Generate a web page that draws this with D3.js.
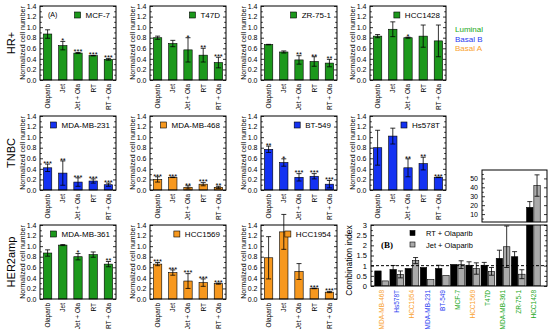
<!DOCTYPE html>
<html><head><meta charset="utf-8">
<script src="https://cdn.jsdelivr.net/npm/d3@7"></script>
<style>
body{margin:0;background:#fff}
svg{display:block;font-family:"Liberation Sans",Arial,Helvetica,sans-serif}
</style>
</head><body>
<svg id="c" width="550" height="331"></svg>
<script>
// ---------------- DATA ----------------
const treatments = ["Olaparib", "Jet", "Jet + Ola", "RT", "RT + Ola"];
const rowLabels = ["HR+", "TNBC", "HER2amp"];
const subtypes = ["Luminal", "Basal B", "Basal A"];

const panelNames   = ["MCF-7", "T47D", "ZR-75-1", "HCC1428", "MDA-MB-231", "MDA-MB-468", "BT-549", "Hs578T", "MDA-MB-361", "HCC1569", "HCC1954"];
const panelSubtype = ["Luminal", "Luminal", "Luminal", "Luminal", "Basal B", "Basal A", "Basal B", "Basal B", "Luminal", "Basal A", "Basal A"];

const mcf7Mean = [0.87, 0.65, 0.51, 0.46, 0.39];
const mcf7Err  = [0.08, 0.08, 0.01, 0.005, 0.015];
const mcf7Sig  = ["", "*", "***", "***", "***"];

const t47dMean = [0.80, 0.69, 0.57, 0.47, 0.33];
const t47dErr  = [0.03, 0.06, 0.23, 0.13, 0.10];
const t47dSig  = ["", "", "*", "**", "***"];

const zr751Mean = [0.67, 0.53, 0.38, 0.35, 0.32];
const zr751Err  = [0.005, 0.02, 0.08, 0.09, 0.07];
const zr751Sig  = ["", "", "**", "**", "**"];

const hcc1428Mean = [0.83, 0.96, 0.80, 0.83, 0.74];
const hcc1428Err  = [0.03, 0.14, 0.01, 0.21, 0.30];
const hcc1428Sig  = ["", "", "*", "", ""];

const mdamb231Mean = [0.42, 0.32, 0.15, 0.17, 0.10];
const mdamb231Err  = [0.07, 0.23, 0.08, 0.04, 0.03];
const mdamb231Sig  = ["***", "**", "***", "***", "***"];

const mdamb468Mean = [0.20, 0.24, 0.05, 0.11, 0.05];
const mdamb468Err  = [0.05, 0.005, 0.03, 0.03, 0.02];
const mdamb468Sig  = ["***", "***", "**", "***", "**"];

const bt549Mean = [0.77, 0.52, 0.24, 0.26, 0.11];
const bt549Err  = [0.06, 0.07, 0.07, 0.05, 0.07];
const bt549Sig  = ["**", "*", "***", "***", "***"];

const hs578tMean = [0.80, 1.02, 0.42, 0.50, 0.24];
const hs578tErr  = [0.33, 0.15, 0.17, 0.12, 0.005];
const hs578tSig  = ["", "", "**", "**", "***"];

const mdamb361Mean = [0.87, 1.02, 0.80, 0.84, 0.66];
const mdamb361Err  = [0.06, 0.01, 0.06, 0.05, 0.05];
const mdamb361Sig  = ["", "", "*", "", "**"];

const hcc1569Mean = [0.66, 0.50, 0.34, 0.31, 0.29];
const hcc1569Err  = [0.03, 0.05, 0.14, 0.07, 0.01];
const hcc1569Sig  = ["***", "***", "***", "***", "***"];

const hcc1954Mean = [0.78, 1.27, 0.52, 0.20, 0.13];
const hcc1954Err  = [0.40, 0.33, 0.15, 0.005, 0.01];
const hcc1954Sig  = ["", "", "", "***", "***"];

const yTicks = [0, 0.2, 0.4, 0.6, 0.8, 1.0, 1.2, 1.4];
const yMinor = [0.1, 0.3, 0.5, 0.7, 0.9, 1.1, 1.3];

// Panel B: combination index
const ciLines   = ["MDA-MB-468", "Hs578T", "HCC1954", "MDA-MB-231", "BT-549", "MCF-7", "HCC1569", "T47D", "MDA-MB-361", "ZR-75-1", "HCC1428"];
const ciSubtype = ["Basal A", "Basal B", "Basal A", "Basal B", "Basal B", "Luminal", "Basal A", "Luminal", "Luminal", "Luminal", "Luminal"];
const ciSeries  = ["RT + Olaparib", "Jet + Olaparib"];
const rtOla     = [0.74, 0.81, 0.86, 0.91, 0.86, 1.06, 1.02, 1.02, 1.36, 1.44, 17.5];
const rtOlaErr  = [0, 0.2, 0, 0, 0.16, 0, 0.17, 0.14, 0.4, 0.25, 6.5];
const jetOla    = [0.25, 0.57, 1.25, 0.32, 0.52, 1.05, 0.86, 0.72, 1.93, 0.58, 42];
const jetOlaErr = [0, 0.17, 0.15, 0, 0, 0.19, 0.28, 0.19, 1.02, 0.22, 12];
const ciTicks   = [0, 0.5, 1, 1.5, 2, 2.5, 3];
const insetTicks = [10, 20, 30, 40, 50];

// ---------------- STYLE / LAYOUT ----------------
const fillColor = {"Luminal": "#1c981c", "Basal B": "#1432f2", "Basal A": "#f7981e"};
const textColor = {"Luminal": "#21a821", "Basal B": "#2a3cf0", "Basal A": "#f9a12e"};
const colX = [40, 150, 261, 370];
const panelW = 76;
const rowTop = [6, 116, 225];
const rowBot = [80, 190, 299];

const svg = d3.select("#c");
const panelData = [
  [mcf7Mean, mcf7Err, mcf7Sig], [t47dMean, t47dErr, t47dSig], [zr751Mean, zr751Err, zr751Sig], [hcc1428Mean, hcc1428Err, hcc1428Sig],
  [mdamb231Mean, mdamb231Err, mdamb231Sig], [mdamb468Mean, mdamb468Err, mdamb468Sig], [bt549Mean, bt549Err, bt549Sig], [hs578tMean, hs578tErr, hs578tSig],
  [mdamb361Mean, mdamb361Err, mdamb361Sig], [hcc1569Mean, hcc1569Err, hcc1569Sig], [hcc1954Mean, hcc1954Err, hcc1954Sig]
];

function styleAxis(g, fs) {
  g.select(".domain").remove();
  g.attr("font-size", fs).attr("font-family", null);
  g.selectAll("line").attr("stroke", "#000").attr("stroke-width", 0.8);
  g.selectAll("text").attr("fill", "#000");
}

function errorBars(g, rows, capW) {
  const eg = g.append("g").attr("stroke", "#000").attr("stroke-width", 0.8);
  rows.forEach(r => {
    if (r.e <= 0) return;
    eg.append("line").attr("x1", r.x).attr("x2", r.x).attr("y1", r.yLo).attr("y2", r.yHi);
    eg.append("line").attr("x1", r.x - capW / 2).attr("x2", r.x + capW / 2).attr("y1", r.yLo).attr("y2", r.yLo);
    eg.append("line").attr("x1", r.x - capW / 2).attr("x2", r.x + capW / 2).attr("y1", r.yHi).attr("y2", r.yHi);
  });
}

panelNames.forEach((name, pi) => {
  const row = Math.floor(pi / 4), col = pi % 4;
  const [mean, err, sig] = panelData[pi];
  const left = colX[col], right = left + panelW, top = rowTop[row], bot = rowBot[row];
  const y = d3.scaleLinear().domain([0, 1.4]).range([bot, top]);
  const x = d3.scaleBand().domain(treatments).range([left, right]).paddingInner(0.45).paddingOuter(0.225);
  const g = svg.append("g");
  const color = fillColor[panelSubtype[pi]];

  g.selectAll("rect.bar").data(mean).join("rect").attr("class", "bar")
    .attr("x", (d, i) => x(treatments[i])).attr("y", d => y(d))
    .attr("width", x.bandwidth()).attr("height", d => bot - y(d))
    .attr("fill", color).attr("stroke", "#000").attr("stroke-width", 0.6);

  errorBars(g, mean.map((m, i) => ({x: x(treatments[i]) + x.bandwidth() / 2, e: err[i], yLo: y(m - err[i]), yHi: y(m + err[i])})), 5);

  g.selectAll("text.sig").data(sig).join("text").attr("class", "sig")
    .attr("x", (d, i) => x(treatments[i]) + x.bandwidth() / 2)
    .attr("y", (d, i) => y(mean[i] + err[i]) + 1.8)
    .attr("text-anchor", "middle").attr("font-size", 7.5).text(d => d);

  // frame
  g.append("rect").attr("x", left).attr("y", top).attr("width", panelW).attr("height", bot - top)
    .attr("fill", "none").attr("stroke", "#000").attr("stroke-width", 1);

  // axes (inward ticks)
  g.append("g").attr("transform", `translate(${left},0)`)
    .call(d3.axisLeft(y).tickValues(yTicks).tickSize(-3).tickPadding(3.5).tickFormat(d3.format(".1f")))
    .call(a => styleAxis(a, 7));
  g.append("g").attr("transform", `translate(${left},0)`)
    .call(d3.axisLeft(y).tickValues(yMinor).tickSize(-1.8).tickFormat(""))
    .call(a => styleAxis(a, 7));
  g.append("g").attr("transform", `translate(${right},0)`)
    .call(d3.axisRight(y).tickValues(yTicks).tickSize(-3).tickFormat(""))
    .call(a => styleAxis(a, 7));
  g.append("g").attr("transform", `translate(${right},0)`)
    .call(d3.axisRight(y).tickValues(yMinor).tickSize(-1.8).tickFormat(""))
    .call(a => styleAxis(a, 7));

  // y label
  g.append("text").attr("transform", `translate(${left - 15},${(top + bot) / 2}) rotate(-90)`)
    .attr("text-anchor", "middle").attr("font-size", 7).text("Normalized cell number");

  // category labels
  g.selectAll("text.cat").data(treatments).join("text").attr("class", "cat")
    .attr("transform", d => `translate(${x(d) + x.bandwidth() / 2 + 2.4},${bot + 4}) rotate(-90)`)
    .attr("text-anchor", "end").attr("font-size", 6.5).text(d => d);

  // legend
  const lt = g.append("text").attr("x", right - 6).attr("y", top + 12).attr("text-anchor", "end")
    .attr("font-size", 8).text(name);
  const tw = lt.node().getComputedTextLength();
  g.append("rect").attr("x", right - 6 - tw - 11).attr("y", top + 6).attr("width", 6).attr("height", 6)
    .attr("fill", color).attr("stroke", "#000").attr("stroke-width", 0.6);

  if (pi === 0) {
    g.append("text").attr("x", left + 8).attr("y", top + 10.5).attr("font-size", 7).text("(A)");
  }
});

// row labels
rowLabels.forEach((t, r) => {
  svg.append("text").attr("transform", `translate(15,${(rowTop[r] + rowBot[r]) / 2}) rotate(-90)`)
    .attr("text-anchor", "middle").attr("font-size", 11).text(t);
});

// subtype legend
subtypes.forEach((s, i) => {
  svg.append("text").attr("x", 455).attr("y", 32 + i * 9.7).attr("font-size", 8)
    .attr("fill", textColor[s]).text(s);
});

// ---------------- PANEL B ----------------
const bL = 371, bR = 547, bT = 225, bB = 286;
const iL = 482, iR = 547, iT = 170, iB = 222;
const yB = d3.scaleLinear().domain([0, 3]).range([bB, bT]);
const yI = d3.scaleLinear().domain([0, 60]).range([223, 169.5]);
const x0 = d3.scaleBand().domain(ciLines).range([374, 541]).paddingInner(0.1).paddingOuter(0.05);
const x1 = d3.scaleBand().domain(ciSeries).range([0, x0.bandwidth()]).paddingInner(0.12);
const seriesFill = {"RT + Olaparib": "#000", "Jet + Olaparib": "#aaaaaa"};
const seriesVals = {"RT + Olaparib": [rtOla, rtOlaErr], "Jet + Olaparib": [jetOla, jetOlaErr]};

const defs = svg.append("defs");
defs.append("clipPath").attr("id", "clipB").append("rect").attr("x", bL).attr("y", bT).attr("width", bR - bL).attr("height", bB - bT);
defs.append("clipPath").attr("id", "clipI").append("rect").attr("x", iL).attr("y", iT).attr("width", iR - iL).attr("height", iB - iT);

const gB = svg.append("g");
const gBc = gB.append("g").attr("clip-path", "url(#clipB)");
const gIc = gB.append("g").attr("clip-path", "url(#clipI)");

ciSeries.forEach(s => {
  const [vals, errs] = seriesVals[s];
  gBc.selectAll(null).data(vals).join("rect")
    .attr("x", (d, i) => x0(ciLines[i]) + x1(s)).attr("y", d => yB(d))
    .attr("width", x1.bandwidth()).attr("height", d => bB - yB(d))
    .attr("fill", seriesFill[s]).attr("stroke", "#000").attr("stroke-width", 0.6);
  errorBars(gBc, vals.map((v, i) => ({x: x0(ciLines[i]) + x1(s) + x1.bandwidth() / 2, e: errs[i], yLo: yB(v - errs[i]), yHi: yB(v + errs[i])})), 5);
  const big = vals.map((v, i) => ({v, e: errs[i], i})).filter(d => d.v > 3);
  gIc.selectAll(null).data(big).join("rect")
    .attr("x", d => x0(ciLines[d.i]) + x1(s)).attr("y", d => yI(d.v))
    .attr("width", x1.bandwidth()).attr("height", d => iB + 2 - yI(d.v))
    .attr("fill", seriesFill[s]).attr("stroke", "#000").attr("stroke-width", 0.6);
  errorBars(gIc, big.map(d => ({x: x0(ciLines[d.i]) + x1(s) + x1.bandwidth() / 2, e: d.e, yLo: yI(d.v - d.e), yHi: yI(d.v + d.e)})), 5);
});

gB.append("line").attr("x1", bL).attr("x2", bR).attr("y1", yB(1)).attr("y2", yB(1))
  .attr("stroke", "#000").attr("stroke-width", 1).attr("stroke-dasharray", "3,2");

gB.append("rect").attr("x", bL).attr("y", bT).attr("width", bR - bL).attr("height", bB - bT)
  .attr("fill", "none").attr("stroke", "#000").attr("stroke-width", 1);
gB.append("rect").attr("x", iL).attr("y", iT).attr("width", iR - iL).attr("height", iB - iT)
  .attr("fill", "none").attr("stroke", "#000").attr("stroke-width", 1);

const ciMinor = d3.range(0, 13).map(i => i * 0.25).filter(v => v % 0.5 !== 0);
gB.append("g").attr("transform", `translate(${bL},0)`)
  .call(d3.axisLeft(yB).tickValues(ciTicks).tickSize(-3).tickPadding(4).tickFormat(d3.format("~g")))
  .call(a => styleAxis(a, 7.5));
gB.append("g").attr("transform", `translate(${bL},0)`)
  .call(d3.axisLeft(yB).tickValues(ciMinor).tickSize(-1.8).tickFormat(""))
  .call(a => styleAxis(a, 7.5));
gB.append("g").attr("transform", `translate(${bR},0)`)
  .call(d3.axisRight(yB).tickValues(ciTicks).tickSize(-3).tickFormat(""))
  .call(a => styleAxis(a, 7.5));
gB.append("g").attr("transform", `translate(${bR},0)`)
  .call(d3.axisRight(yB).tickValues(ciMinor).tickSize(-1.8).tickFormat(""))
  .call(a => styleAxis(a, 7.5));

const insetMinor = [5, 15, 25, 35, 45, 55];
gB.append("g").attr("transform", `translate(${iL},0)`)
  .call(d3.axisLeft(yI).tickValues(insetTicks).tickSize(-3).tickPadding(4))
  .call(a => styleAxis(a, 7));
gB.append("g").attr("transform", `translate(${iL},0)`)
  .call(d3.axisLeft(yI).tickValues(insetMinor).tickSize(-1.8).tickFormat(""))
  .call(a => styleAxis(a, 7));
gB.append("g").attr("transform", `translate(${iR},0)`)
  .call(d3.axisRight(yI).tickValues(insetTicks).tickSize(-3).tickFormat(""))
  .call(a => styleAxis(a, 7));

gB.append("text").attr("transform", `translate(352,${(bT + bB) / 2 + 5}) rotate(-90)`)
  .attr("text-anchor", "middle").attr("font-size", 8.5).text("Combination index");
gB.selectAll("text.ci").data(ciLines).join("text").attr("class", "ci")
  .attr("transform", d => `translate(${x0(d) + x0.bandwidth() / 2 + 2.4},${bB + 4}) rotate(-90)`)
  .attr("text-anchor", "end").attr("font-size", 6.5)
  .attr("fill", (d, i) => textColor[ciSubtype[i]]).text(d => d);

ciSeries.forEach((s, i) => {
  gB.append("rect").attr("x", 410).attr("y", 230.5 + i * 11.5).attr("width", 5).attr("height", 5)
    .attr("fill", seriesFill[s]).attr("stroke", "#000").attr("stroke-width", 0.6);
  gB.append("text").attr("x", 426).attr("y", 236 + i * 11.5).attr("font-size", 7.5).text(s);
});
gB.append("text").attr("x", 381).attr("y", 248).attr("font-size", 9).attr("font-weight", "bold")
  .attr("font-family", "'Liberation Serif','Times New Roman',serif").text("(B)");
</script>
</body></html>
